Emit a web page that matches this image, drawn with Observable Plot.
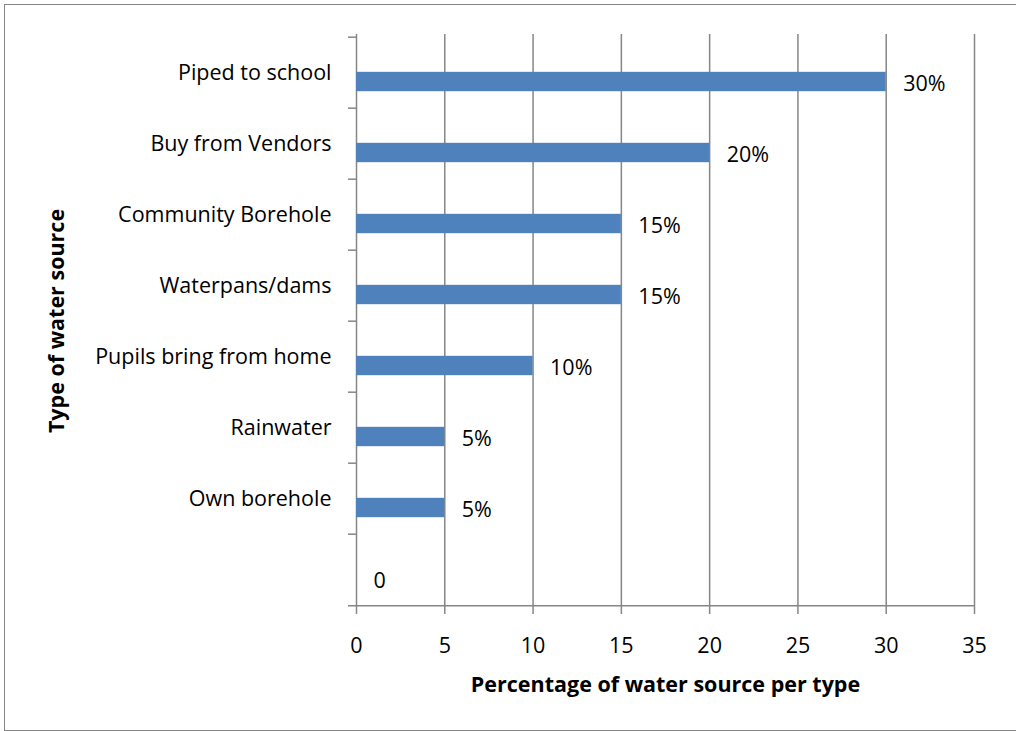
<!DOCTYPE html>
<html>
<head>
<meta charset="utf-8">
<script src="https://cdn.jsdelivr.net/npm/d3@7"></script>
<script src="https://cdn.jsdelivr.net/npm/@observablehq/plot@0.6"></script>
<style>
  html, body { margin: 0; padding: 0; background: #fff; }
  #wrap { position: relative; width: 1016px; height: 731px; overflow: hidden; }
  #border { position: absolute; left: 4px; top: 4px; width: 1030px; height: 727px;
            border: 1.5px solid #868686; box-sizing: border-box; pointer-events: none; }
  svg { display: block; }
</style>
</head>
<body>
<div id="wrap"><div id="border"></div></div>
<script>
// Share of schools by main type of water source
const categories = ["Piped to school", "Buy from Vendors", "Community Borehole", "Waterpans/dams",
                    "Pupils bring from home", "Rainwater", "Own borehole", ""];
const values = [30, 20, 15, 15, 10, 5, 5, 0];
const valueLabels = ["30%", "20%", "15%", "15%", "10%", "5%", "5%", "0"];
const xTicks = [0, 5, 10, 15, 20, 25, 30, 35];
const xTitle = "Percentage of water source per type";
const yTitle = "Type of water source";

const data = categories.map((c, i) => ({category: c, value: values[i], label: valueLabels[i]}));

const W = 1016, H = 731;
const M = {top: 34, right: 42, bottom: 124, left: 356};
const step = (H - M.top - M.bottom) / categories.length;
const barH = 20;
const grey = "#868686";
const font = "'Open Sans', sans-serif";
const fs = 21.5;

const chart = Plot.plot({
  width: W,
  height: H,
  marginTop: M.top,
  marginRight: M.right,
  marginBottom: M.bottom,
  marginLeft: M.left,
  style: {fontFamily: font, fontSize: fs + "px", color: "#000", background: "transparent", overflow: "visible"},
  x: {domain: [0, 35]},
  y: {domain: categories, type: "band", padding: 0},
  marks: [
    Plot.gridX(xTicks, {stroke: grey, strokeOpacity: 1, strokeWidth: 1.5}),
    // bars sit slightly below the centre of their band
    Plot.barX(data, {
      x: "value", y: "category", fill: "#4f81bd",
      insetTop: (step - barH) / 2 + 9, insetBottom: (step - barH) / 2 - 9
    }),
    Plot.text(data, {
      x: "value", y: "category", text: "label",
      textAnchor: "start", dx: 17, dy: 11, fontSize: fs
    }),
    // category boundary ticks on the vertical axis
    Plot.ruleY(categories, {y: d => d, x1: -0.45, x2: 0, dy: -step / 2, stroke: grey, strokeWidth: 1.5}),
    // horizontal axis line, extended by one tick length
    Plot.ruleY(categories.slice(-1), {y: d => d, x1: -0.45, x2: 35, dy: step / 2, stroke: grey, strokeWidth: 1.5}),
    Plot.axisX(xTicks, {tickSize: 7, tickPadding: 23, stroke: grey, strokeWidth: 1.5, label: null, fontSize: fs}),
    Plot.axisY({tickSize: 0, tickPadding: 25, label: null, fontSize: fs}),
    Plot.text([xTitle], {
      frameAnchor: "bottom", dy: 78, lineAnchor: "middle", textAnchor: "middle",
      fontWeight: "bold", fontSize: fs
    }),
    Plot.text([yTitle], {
      frameAnchor: "left", dx: -299, rotate: -90, lineAnchor: "middle", textAnchor: "middle",
      fontWeight: "bold", fontSize: fs
    })
  ]
});

document.getElementById("wrap").prepend(chart);
</script>
</body>
</html>
